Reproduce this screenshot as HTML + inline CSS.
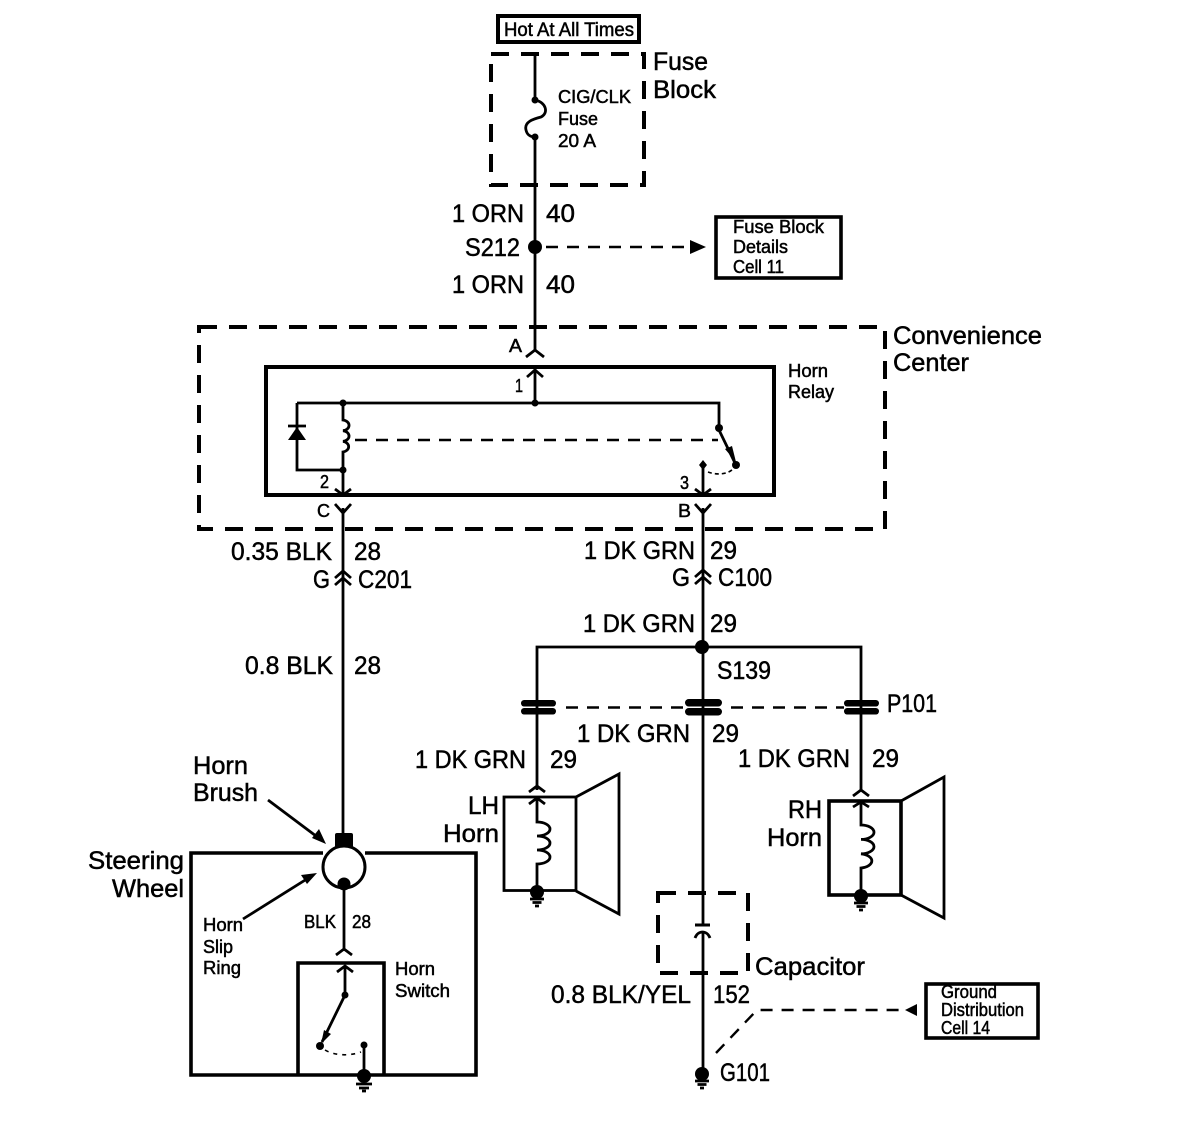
<!DOCTYPE html>
<html>
<head>
<meta charset="utf-8">
<title>Horn wiring diagram</title>
<style>
html,body{margin:0;padding:0;background:#fff;width:1184px;height:1130px;overflow:hidden}
svg{display:block}
text{font-family:"Liberation Sans",sans-serif;fill:#000;stroke:#000;stroke-width:.5px}
.l{font-size:25px}
.m{font-size:19px}
.s{font-size:18px}
.w{fill:none;stroke:#000;stroke-width:2.8}
.t{fill:none;stroke:#000;stroke-width:3.6}
.d{fill:none;stroke:#000;stroke-width:4;stroke-dasharray:18 12}
.h{fill:none;stroke:#000;stroke-width:2.4;stroke-dasharray:12 9}
</style>
</head>
<body>
<svg width="1184" height="1130" viewBox="0 0 1184 1130" xmlns="http://www.w3.org/2000/svg">
<rect width="1184" height="1130" fill="#fff"/>

<!-- Top -->
<rect x="498" y="16" width="141" height="26" fill="none" stroke="#000" stroke-width="4"/>
<text class="m" x="504" y="36" textLength="130" lengthAdjust="spacingAndGlyphs">Hot At All Times</text>
<rect x="491" y="54" width="153" height="131" class="d"/>
<path class="w" d="M535 54V100C546 102 549 113 541 117C533 119 524 122 526 130C527 135 531 137 535 137V350"/>
<circle cx="535" cy="100" r="3.5"/><circle cx="535" cy="137" r="3.5"/>
<text class="l" x="653" y="70" textLength="55" lengthAdjust="spacingAndGlyphs">Fuse</text>
<text class="l" x="653" y="98" textLength="63" lengthAdjust="spacingAndGlyphs">Block</text>
<text class="s" x="558" y="103" textLength="73" lengthAdjust="spacingAndGlyphs">CIG/CLK</text>
<text class="s" x="558" y="125" textLength="40" lengthAdjust="spacingAndGlyphs">Fuse</text>
<text class="s" x="558" y="147" textLength="38" lengthAdjust="spacingAndGlyphs">20 A</text>

<text class="l" x="452" y="222" textLength="72" lengthAdjust="spacingAndGlyphs">1 ORN</text>
<text class="l" x="546" y="222" textLength="29" lengthAdjust="spacingAndGlyphs">40</text>
<circle cx="535" cy="247" r="7"/>
<text class="l" x="465" y="256" textLength="55" lengthAdjust="spacingAndGlyphs">S212</text>
<path class="h" d="M546 247H692"/>
<path d="M690 240L706 247L690 254Z"/>
<rect x="716" y="217" width="125" height="61" fill="none" stroke="#000" stroke-width="3.6"/>
<text class="s" x="733" y="233" textLength="91" lengthAdjust="spacingAndGlyphs">Fuse Block</text>
<text class="s" x="733" y="253" textLength="55" lengthAdjust="spacingAndGlyphs">Details</text>
<text class="s" x="733" y="273" textLength="51" lengthAdjust="spacingAndGlyphs">Cell 11</text>
<text class="l" x="452" y="293" textLength="72" lengthAdjust="spacingAndGlyphs">1 ORN</text>
<text class="l" x="546" y="293" textLength="29" lengthAdjust="spacingAndGlyphs">40</text>

<!-- Convenience center -->
<rect x="199" y="327" width="686" height="202" class="d"/>
<text class="l" x="893" y="344" textLength="149" lengthAdjust="spacingAndGlyphs">Convenience</text>
<text class="l" x="893" y="371" textLength="76" lengthAdjust="spacingAndGlyphs">Center</text>
<text class="s" x="509" y="352" textLength="13" lengthAdjust="spacingAndGlyphs">A</text>
<path class="w" d="M526 357L535 350L544 357"/>

<rect x="266" y="367" width="508" height="128" fill="none" stroke="#000" stroke-width="4"/>
<text class="s" x="788" y="377" textLength="40" lengthAdjust="spacingAndGlyphs">Horn</text>
<text class="s" x="788" y="398" textLength="46" lengthAdjust="spacingAndGlyphs">Relay</text>
<text class="s" x="515" y="392" textLength="8" lengthAdjust="spacingAndGlyphs">1</text>
<path class="w" d="M535 369V403M527 377L535 370L543 377"/>
<path class="w" d="M297 403H719V428"/>
<circle cx="535" cy="403" r="3.5"/><circle cx="343" cy="403" r="3.5"/><circle cx="343" cy="470" r="3.5"/>
<path class="w" d="M297 403V470H343"/>
<path class="w" d="M343 403V420a7 5.4 0 0 1 0 10.7a7 5.4 0 0 1 0 10.7a7 5.4 0 0 1 0 10.6V495"/>
<path class="w" d="M288 426H306"/>
<path d="M297 427L288 440H306Z"/>
<path class="h" d="M355 440H718"/>
<circle cx="719" cy="428" r="4"/><circle cx="736" cy="465" r="4"/>
<path class="w" d="M719 430L735 463"/>
<path d="M736 462L725 449L732 446Z"/>
<path d="M703 460L707 465L703 470L699 465Z"/>
<path class="w" d="M703 465V495M695 489L703 495L711 489"/>
<path fill="none" stroke="#000" stroke-width="1.6" stroke-dasharray="4 3" d="M708 472C716 475 728 475 734 468"/>
<path class="w" d="M335 489L343 495L351 489"/>
<text class="s" x="320" y="488" textLength="9" lengthAdjust="spacingAndGlyphs">2</text>
<text class="s" x="680" y="489" textLength="9" lengthAdjust="spacingAndGlyphs">3</text>
<text class="s" x="317" y="517" textLength="13" lengthAdjust="spacingAndGlyphs">C</text>
<text class="s" x="678" y="517" textLength="13" lengthAdjust="spacingAndGlyphs">B</text>
<path class="w" d="M335 504L343 513L351 504M695 504L703 513L711 504"/>

<!-- Left drop -->
<path class="w" d="M343 508V833"/>
<path class="w" d="M335 578L343 571L351 578M335 585L343 578L351 585"/>
<text class="l" x="231" y="560" textLength="101" lengthAdjust="spacingAndGlyphs">0.35 BLK</text>
<text class="l" x="354" y="560" textLength="27" lengthAdjust="spacingAndGlyphs">28</text>
<text class="l" x="313" y="588" textLength="17" lengthAdjust="spacingAndGlyphs">G</text>
<text class="l" x="358" y="588" textLength="54" lengthAdjust="spacingAndGlyphs">C201</text>
<text class="l" x="245" y="674" textLength="88" lengthAdjust="spacingAndGlyphs">0.8 BLK</text>
<text class="l" x="354" y="674" textLength="27" lengthAdjust="spacingAndGlyphs">28</text>

<!-- Right drop -->
<path class="w" d="M703 508V1072"/>
<path class="w" d="M695 577L703 570L711 577M695 584L703 577L711 584"/>
<text class="l" x="584" y="559" textLength="111" lengthAdjust="spacingAndGlyphs">1 DK GRN</text>
<text class="l" x="710" y="559" textLength="27" lengthAdjust="spacingAndGlyphs">29</text>
<text class="l" x="672" y="586" textLength="18" lengthAdjust="spacingAndGlyphs">G</text>
<text class="l" x="718" y="586" textLength="54" lengthAdjust="spacingAndGlyphs">C100</text>
<text class="l" x="583" y="632" textLength="112" lengthAdjust="spacingAndGlyphs">1 DK GRN</text>
<text class="l" x="710" y="632" textLength="27" lengthAdjust="spacingAndGlyphs">29</text>
<circle cx="702" cy="647" r="7"/>
<path class="w" d="M537 790V647H861V790"/>
<text class="l" x="717" y="679" textLength="54" lengthAdjust="spacingAndGlyphs">S139</text>

<!-- P101 -->
<g fill="#000">
<rect x="521" y="700" width="35" height="6.5" rx="3.2"/><rect x="521" y="708" width="35" height="6.5" rx="3.2"/>
<rect x="685" y="699" width="37" height="7.5" rx="3.7"/><rect x="685" y="708" width="37" height="7.500" rx="3.7"/>
<rect x="844" y="700" width="35" height="6.500" rx="3.2"/><rect x="844" y="708" width="35" height="6.500" rx="3.2"/>
</g>
<path class="h" d="M566 707.500H686M731 707.500H844"/>
<text class="l" x="887" y="712" textLength="50" lengthAdjust="spacingAndGlyphs">P101</text>
<text class="l" x="577" y="742" textLength="113" lengthAdjust="spacingAndGlyphs">1 DK GRN</text>
<text class="l" x="712" y="742" textLength="27" lengthAdjust="spacingAndGlyphs">29</text>
<text class="l" x="415" y="768" textLength="111" lengthAdjust="spacingAndGlyphs">1 DK GRN</text>
<text class="l" x="550" y="768" textLength="27" lengthAdjust="spacingAndGlyphs">29</text>
<text class="l" x="738" y="767" textLength="112" lengthAdjust="spacingAndGlyphs">1 DK GRN</text>
<text class="l" x="872" y="767" textLength="27" lengthAdjust="spacingAndGlyphs">29</text>

<!-- LH horn -->
<path class="w" d="M529 792L537 786L545 792"/>
<rect x="504" y="797" width="72" height="93.500" fill="none" stroke="#000" stroke-width="2.800"/>
<path class="w" d="M576 797L619 774V914L576 891"/>
<path class="w" d="M537 798V822a13 7 0 0 1 0 14a13 7 0 0 1 0 14a13 7 0 0 1 0 14V890M529 804L537 798L545 804"/>
<circle cx="537" cy="892" r="7"/>
<path class="w" d="M530 899H544M532.500 902.500H541.500M535 906H539"/>
<text class="l" x="468" y="814" textLength="31" lengthAdjust="spacingAndGlyphs">LH</text>
<text class="l" x="443" y="842" textLength="56" lengthAdjust="spacingAndGlyphs">Horn</text>

<!-- RH horn -->
<path class="w" d="M853 796L861 790L869 796"/>
<rect x="829" y="801" width="72" height="94" fill="none" stroke="#000" stroke-width="3.600"/>
<path class="w" d="M901 801L944 777V918L901 895"/>
<path class="w" d="M861 802V825a13 7.200 0 0 1 0 14.400a13 7.200 0 0 1 0 14.400a13 7.200 0 0 1 0 14.200V895M853 807L861 802L869 807"/>
<circle cx="861" cy="896" r="7"/>
<path class="w" d="M854 903H868M856.500 906.500H865.500M859 910H863"/>
<text class="l" x="788" y="818" textLength="34" lengthAdjust="spacingAndGlyphs">RH</text>
<text class="l" x="767" y="846" textLength="55" lengthAdjust="spacingAndGlyphs">Horn</text>

<!-- Steering wheel -->
<text class="l" x="193" y="774" textLength="55" lengthAdjust="spacingAndGlyphs">Horn</text>
<text class="l" x="193" y="801" textLength="65" lengthAdjust="spacingAndGlyphs">Brush</text>
<path class="w" d="M268 800L320 839"/>
<path d="M326 844L312 838L319 829Z"/>
<text class="l" x="88" y="869" textLength="96" lengthAdjust="spacingAndGlyphs">Steering</text>
<text class="l" x="112" y="897" textLength="72" lengthAdjust="spacingAndGlyphs">Wheel</text>
<path class="t" d="M323 853H191V1075H476V853H365"/>
<rect x="335" y="833" width="18" height="15" rx="2"/>
<circle cx="344" cy="867" r="21" fill="#fff" stroke="#000" stroke-width="3"/>
<circle cx="344" cy="884" r="6.500"/>
<path class="w" d="M344 884V951M336 955L344 949L352 955"/>
<path class="w" d="M243 919L310 877"/>
<path d="M317 873L307 884L301 875Z"/>
<text class="s" x="203" y="931" textLength="40" lengthAdjust="spacingAndGlyphs">Horn</text>
<text class="s" x="203" y="953" textLength="30" lengthAdjust="spacingAndGlyphs">Slip</text>
<text class="s" x="203" y="974" textLength="38" lengthAdjust="spacingAndGlyphs">Ring</text>
<text class="s" x="304" y="928" textLength="32" lengthAdjust="spacingAndGlyphs">BLK</text>
<text class="s" x="352" y="928" textLength="19" lengthAdjust="spacingAndGlyphs">28</text>
<path class="t" d="M298 1075V963H384V1075"/>
<text class="s" x="395" y="975" textLength="40" lengthAdjust="spacingAndGlyphs">Horn</text>
<text class="s" x="395" y="997" textLength="55" lengthAdjust="spacingAndGlyphs">Switch</text>
<path class="w" d="M345 966V995L322 1042M337 972L345 966L353 972"/>
<circle cx="345" cy="995" r="3.500"/><circle cx="320" cy="1046" r="4"/><circle cx="364" cy="1045" r="3.500"/>
<path d="M321 1044L324 1030L331 1034Z"/>
<path class="w" d="M364 1045V1076"/>
<path fill="none" stroke="#000" stroke-width="1.600" stroke-dasharray="4 5" d="M325 1050C335 1056 350 1056 361 1052"/>
<circle cx="364" cy="1076" r="7"/>
<path class="w" d="M356 1084H372M359 1088H369M362 1091H366"/>

<!-- Capacitor -->
<rect x="658" y="893" width="90" height="80" class="d"/>
<path fill="none" stroke="#fff" stroke-width="6" d="M703 926V931"/>
<path fill="none" stroke="#000" stroke-width="3" d="M695 925H710"/>
<path class="w" d="M695 938C698 930 707 930 710 938"/>
<text class="l" x="755" y="975" textLength="110" lengthAdjust="spacingAndGlyphs">Capacitor</text>
<text class="l" x="551" y="1003" textLength="140" lengthAdjust="spacingAndGlyphs">0.8 BLK/YEL</text>
<text class="l" x="713" y="1003" textLength="37" lengthAdjust="spacingAndGlyphs">152</text>
<circle cx="702" cy="1074" r="7"/>
<path class="w" d="M695 1081H709M697.500 1084.500H706.500M700 1088H704"/>
<text class="l" x="720" y="1081" textLength="50" lengthAdjust="spacingAndGlyphs">G101</text>
<path class="h" d="M716 1053L757 1010H906"/>
<path d="M905 1010L917 1004V1016Z"/>
<rect x="926" y="984" width="112" height="54" fill="none" stroke="#000" stroke-width="3.600"/>
<text class="s" x="941" y="998" textLength="56" lengthAdjust="spacingAndGlyphs">Ground</text>
<text class="s" x="941" y="1016" textLength="83" lengthAdjust="spacingAndGlyphs">Distribution</text>
<text class="s" x="941" y="1034" textLength="49" lengthAdjust="spacingAndGlyphs">Cell 14</text>
</svg>
</body>
</html>
